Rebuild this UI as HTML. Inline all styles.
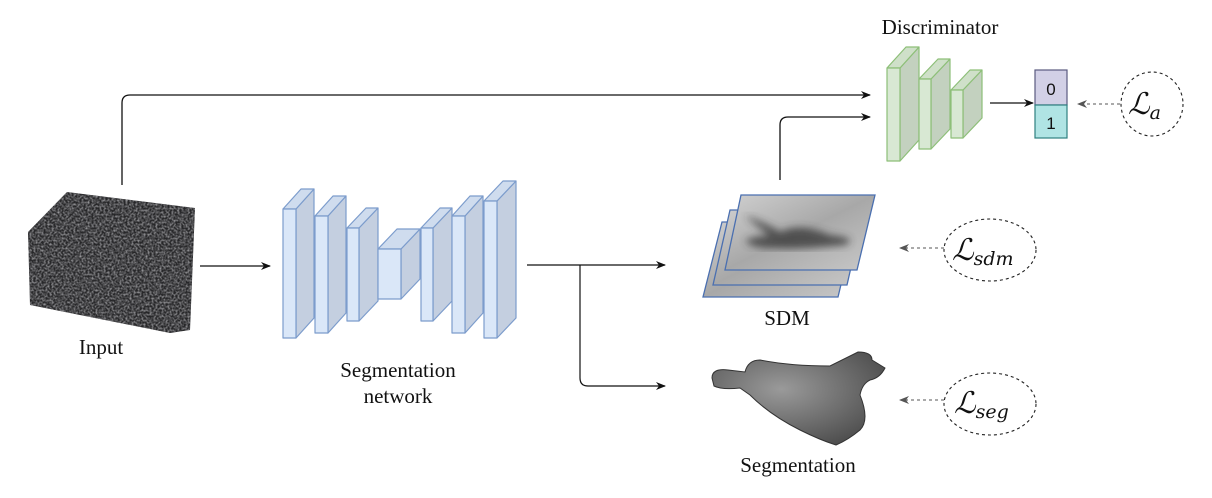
<!DOCTYPE html>
<html><head><meta charset="utf-8"><style>
html,body{margin:0;padding:0;background:#fff;}
svg{display:block;}
.t{font-family:"Liberation Serif",serif;font-size:21px;fill:#111;}
.m{font-family:"DejaVu Serif","Liberation Serif",serif;font-style:italic;fill:#111;}
</style></head><body>
<svg width="1212" height="498" viewBox="0 0 1212 498" xmlns="http://www.w3.org/2000/svg">
<defs>
<marker id="ah" markerWidth="10" markerHeight="8" refX="9" refY="4" orient="auto" markerUnits="userSpaceOnUse"><path d="M0,0 L10,4 L0,8 L3,4 Z" fill="#111"/></marker>
<marker id="ag" markerWidth="10" markerHeight="8" refX="9" refY="4" orient="auto" markerUnits="userSpaceOnUse"><path d="M0,0 L10,4 L0,8 L3,4 Z" fill="#555"/></marker>
<filter id="noise" x="0" y="0" width="100%" height="100%"><feTurbulence type="fractalNoise" baseFrequency="0.5" numOctaves="3" seed="3"/><feColorMatrix type="matrix" values="0 0 0 0 0.45  0 0 0 0 0.45  0 0 0 0 0.47  0 0 0 1.6 -0.55"/><feComposite in2="SourceGraphic" operator="in"/></filter>
<filter id="blur"><feGaussianBlur stdDeviation="4"/></filter>
<linearGradient id="sdm" x1="0" y1="0" x2="1" y2="1"><stop offset="0" stop-color="#d0d0d0"/><stop offset="0.5" stop-color="#a8a8a8"/><stop offset="1" stop-color="#c8c8c8"/></linearGradient>
<radialGradient id="blob" cx="0.4" cy="0.4" r="0.7"><stop offset="0" stop-color="#9a9a9a"/><stop offset="1" stop-color="#4a4a4a"/></radialGradient>
</defs>

<polygon points="28,232 67,192 195,208 190,330 170,333 30,305" fill="#262628"/>
<polygon points="28,232 67,192 195,208 190,330 170,333 30,305" fill="#fff" filter="url(#noise)"/>
<text class="t" x="101" y="354" text-anchor="middle">Input</text>

<path d="M122,185 V103 Q122,95 130,95 H870" fill="none" stroke="#111" stroke-width="1.3" marker-end="url(#ah)"/>
<line x1="200" y1="266" x2="270" y2="266" stroke="#111" stroke-width="1.2" marker-end="url(#ah)"/>
<line x1="527" y1="265" x2="665" y2="265" stroke="#111" stroke-width="1.2" marker-end="url(#ah)"/>
<path d="M580,265 V378 Q580,386 588,386 H665" fill="none" stroke="#111" stroke-width="1.2" marker-end="url(#ah)"/>
<path d="M780,180 V125 Q780,117 788,117 H870" fill="none" stroke="#111" stroke-width="1.3" marker-end="url(#ah)"/>
<line x1="990" y1="103" x2="1033" y2="103" stroke="#111" stroke-width="1.3" marker-end="url(#ah)"/>

<g stroke="#7c9ccc" stroke-width="1.2" stroke-linejoin="round">
<polygon points="296,209 314,189 314,318 296,338" fill="#c4cfe0"/><polygon points="283,209 301,189 314,189 296,209" fill="#cfdcee"/><rect x="283" y="209" width="13" height="129" fill="#dae7f8"/>
<polygon points="328,216 346,196 346,313 328,333" fill="#c4cfe0"/><polygon points="315,216 333,196 346,196 328,216" fill="#cfdcee"/><rect x="315" y="216" width="13" height="117" fill="#dae7f8"/>
<polygon points="359,228 378,208 378,301 359,321" fill="#c4cfe0"/><polygon points="347,228 366,208 378,208 359,228" fill="#cfdcee"/><rect x="347" y="228" width="12" height="93" fill="#dae7f8"/>
<polygon points="401,249 420,229 420,279 401,299" fill="#c4cfe0"/><polygon points="378,249 397,229 420,229 401,249" fill="#cfdcee"/><rect x="378" y="249" width="23" height="50" fill="#dae7f8"/>
<polygon points="433,228 452,208 452,301 433,321" fill="#c4cfe0"/><polygon points="421,228 440,208 452,208 433,228" fill="#cfdcee"/><rect x="421" y="228" width="12" height="93" fill="#dae7f8"/>
<polygon points="465,216 483,196 483,313 465,333" fill="#c4cfe0"/><polygon points="452,216 470,196 483,196 465,216" fill="#cfdcee"/><rect x="452" y="216" width="13" height="117" fill="#dae7f8"/>
<polygon points="497,201 516,181 516,318 497,338" fill="#c4cfe0"/><polygon points="484,201 503,181 516,181 497,201" fill="#cfdcee"/><rect x="484" y="201" width="13" height="137" fill="#dae7f8"/>
</g>
<text class="t" x="398" y="377" text-anchor="middle">Segmentation</text>
<text class="t" x="398" y="403" text-anchor="middle">network</text>

<g stroke="#8dbf78" stroke-width="1.2" stroke-linejoin="round">
<polygon points="900,68 919,47 919,140 900,161" fill="#c3d1bf"/><polygon points="887,68 906,47 919,47 900,68" fill="#cfe0c9"/><rect x="887" y="68" width="13" height="93" fill="#d8e8d3"/>
<polygon points="931,79 950,59 950,129 931,149" fill="#c3d1bf"/><polygon points="919,79 938,59 950,59 931,79" fill="#cfe0c9"/><rect x="919" y="79" width="12" height="70" fill="#d8e8d3"/>
<polygon points="963,90 982,70 982,118 963,138" fill="#c3d1bf"/><polygon points="951,90 970,70 982,70 963,90" fill="#cfe0c9"/><rect x="951" y="90" width="12" height="48" fill="#d8e8d3"/>
</g>
<text class="t" x="940" y="34" text-anchor="middle">Discriminator</text>
<rect x="1035" y="70" width="32" height="35" fill="#d2d0e6" stroke="#5a5a80" stroke-width="1.2"/>
<rect x="1035" y="105" width="32" height="33" fill="#b0e4e4" stroke="#2e8080" stroke-width="1.2"/>
<text x="1051" y="95" text-anchor="middle" font-family="Liberation Sans,sans-serif" font-size="17" fill="#111">0</text>
<text x="1051" y="129" text-anchor="middle" font-family="Liberation Sans,sans-serif" font-size="17" fill="#111">1</text>

<g fill="none" stroke="#222" stroke-width="1.1" stroke-dasharray="3,3">
<ellipse cx="1152" cy="104" rx="31" ry="32"/>
<ellipse cx="990" cy="250" rx="46" ry="31"/>
<ellipse cx="990" cy="404" rx="46" ry="31"/>
</g>
<g stroke="#555" stroke-width="1.1" stroke-dasharray="3,3">
<line x1="1120" y1="104" x2="1078" y2="104" marker-end="url(#ag)"/>
<line x1="944" y1="248" x2="900" y2="248" marker-end="url(#ag)"/>
<line x1="944" y1="400" x2="900" y2="400" marker-end="url(#ag)"/>
</g>
<text class="m" x="1128" y="114" font-size="30">ℒ<tspan font-size="19" dy="5">a</tspan></text>
<text class="m" x="952" y="260" font-size="30">ℒ<tspan font-size="19" dy="5">sdm</tspan></text>
<text class="m" x="954" y="413" font-size="30">ℒ<tspan font-size="19" dy="5">seg</tspan></text>

<g stroke="#4a6fb0" stroke-width="1.3">
<polygon points="722,222 856,222 838,297 703,297" fill="url(#sdm)"/>
<polygon points="730,210 864,210 847,285 713,285" fill="url(#sdm)"/>
<polygon points="741,195 875,195 857,270 725,270" fill="url(#sdm)"/>
</g>
<path d="M745,215 Q770,225 780,232 Q800,222 830,235 Q860,238 845,245 Q800,250 770,248 Q750,248 745,240 Q760,235 770,236 Q755,225 745,215Z" fill="#333" opacity="0.75" filter="url(#blur)"/>
<text class="t" x="787" y="325" text-anchor="middle">SDM</text>

<path d="M712,378 Q712,368 728,370 L745,372 Q748,360 760,360 Q790,366 830,366 L858,352 Q872,352 872,360 L885,368 Q880,378 870,380 Q862,384 860,395 Q870,420 860,430 Q848,440 836,445 Q820,440 800,430 Q770,415 750,395 L740,388 Q722,390 714,386 Z" fill="url(#blob)" stroke="#333" stroke-width="1"/>
<text class="t" x="798" y="472" text-anchor="middle">Segmentation</text>
</svg>
</body></html>
